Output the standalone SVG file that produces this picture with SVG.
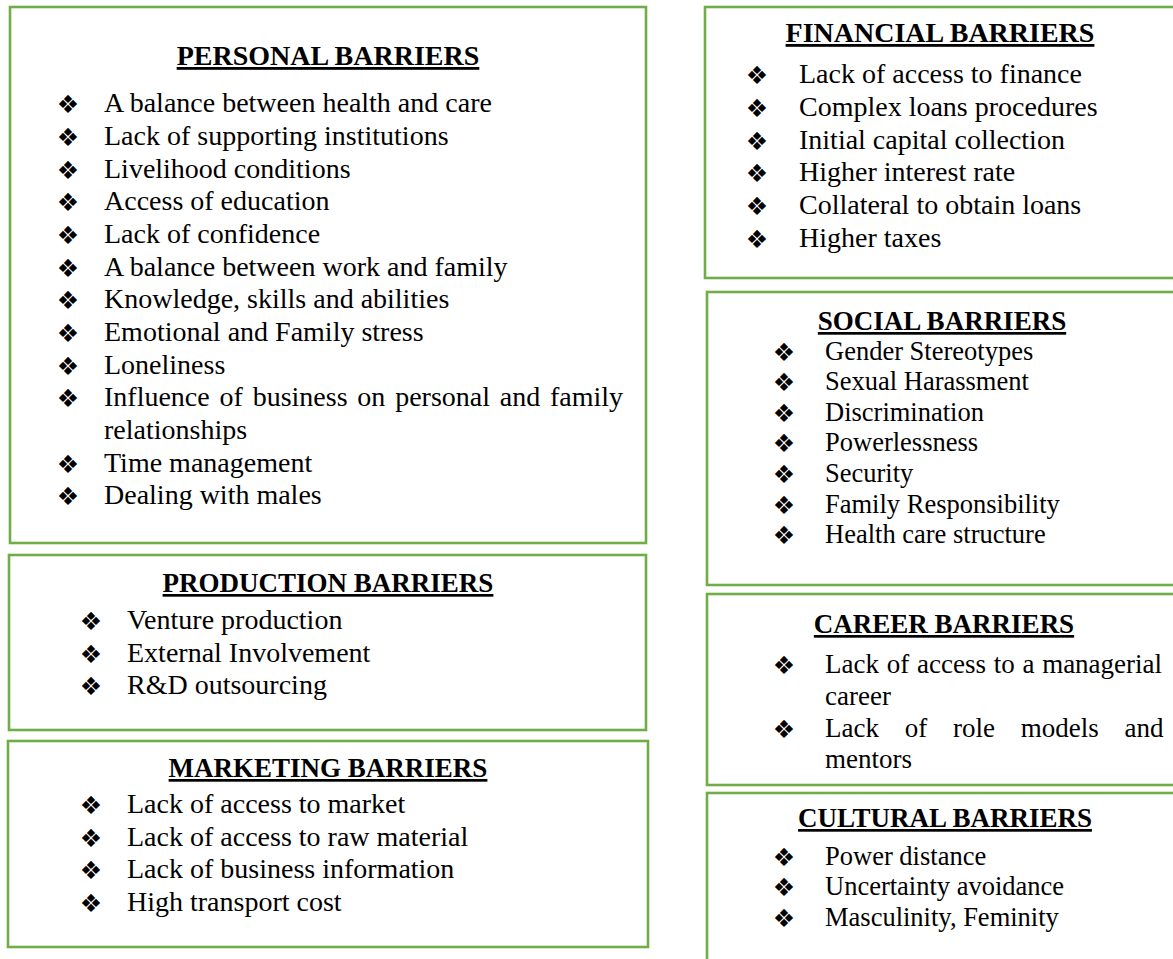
<svg xmlns="http://www.w3.org/2000/svg" width="1173" height="959" viewBox="0 0 1173 959">
  <style>
    .box { fill: #ffffff; stroke: #70ad47; stroke-width: 2.6; }
    .title { font-family: "Liberation Serif", "Times New Roman", serif; font-weight: bold; text-decoration: underline; text-anchor: middle; fill: #000; }
    .item { font-family: "Liberation Serif", "Times New Roman", serif; fill: #000; }
    .bul { font-family: "DejaVu Sans", sans-serif; font-size: 25px; text-anchor: middle; fill: #000; }
    .f28 { font-size: 28px; }
    .f27 { font-size: 27px; }
    .f265 { font-size: 26.5px; }
  </style>
  <rect width="1173" height="959" fill="#ffffff"/>

  <!-- Personal barriers -->
  <g id="personal">
    <rect class="box" x="10" y="7" width="636" height="536"/>
    <text class="title f28" x="328" y="65">PERSONAL BARRIERS</text>
    <g class="bul">
      <text x="68" y="113">❖</text><text x="68" y="146">❖</text><text x="68" y="179">❖</text>
      <text x="68" y="211">❖</text><text x="68" y="244">❖</text><text x="68" y="277">❖</text>
      <text x="68" y="309">❖</text><text x="68" y="342">❖</text><text x="68" y="375">❖</text>
      <text x="68" y="407">❖</text><text x="68" y="473">❖</text><text x="68" y="505">❖</text>
    </g>
    <g class="item f28">
      <text x="104" y="112">A balance between health and care</text>
      <text x="104" y="145">Lack of supporting institutions</text>
      <text x="104" y="178">Livelihood conditions</text>
      <text x="104" y="210">Access of education</text>
      <text x="104" y="243">Lack of confidence</text>
      <text x="104" y="276">A balance between work and family</text>
      <text x="104" y="308">Knowledge, skills and abilities</text>
      <text x="104" y="341">Emotional and Family stress</text>
      <text x="104" y="374">Loneliness</text>
      <text x="104" y="406" word-spacing="2.8">Influence of business on personal and family</text>
      <text x="104" y="439">relationships</text>
      <text x="104" y="472">Time management</text>
      <text x="104" y="504">Dealing with males</text>
    </g>
  </g>

  <!-- Production barriers -->
  <g id="production">
    <rect class="box" x="9" y="555" width="637" height="175"/>
    <text class="title f27" x="328" y="592">PRODUCTION BARRIERS</text>
    <g class="bul">
      <text x="91" y="630">❖</text><text x="91" y="663">❖</text><text x="91" y="695">❖</text>
    </g>
    <g class="item f28">
      <text x="127" y="629">Venture production</text>
      <text x="127" y="662">External Involvement</text>
      <text x="127" y="694">R&amp;D outsourcing</text>
    </g>
  </g>

  <!-- Marketing barriers -->
  <g id="marketing">
    <rect class="box" x="8" y="741" width="640" height="206"/>
    <text class="title f27" x="328" y="777">MARKETING BARRIERS</text>
    <g class="bul">
      <text x="91" y="814">❖</text><text x="91" y="847">❖</text><text x="91" y="879">❖</text><text x="91" y="912">❖</text>
    </g>
    <g class="item f28">
      <text x="127" y="813">Lack of access to market</text>
      <text x="127" y="846">Lack of access to raw material</text>
      <text x="127" y="878">Lack of business information</text>
      <text x="127" y="911">High transport cost</text>
    </g>
  </g>

  <!-- Financial barriers -->
  <g id="financial">
    <rect class="box" x="705" y="7" width="472" height="271"/>
    <text class="title f28" x="940" y="42">FINANCIAL BARRIERS</text>
    <g class="bul">
      <text x="757" y="84">❖</text><text x="757" y="117">❖</text><text x="757" y="150">❖</text>
      <text x="757" y="182">❖</text><text x="757" y="215">❖</text><text x="757" y="248">❖</text>
    </g>
    <g class="item f28">
      <text x="799" y="83">Lack of access to finance</text>
      <text x="799" y="116">Complex loans procedures</text>
      <text x="799" y="149">Initial capital collection</text>
      <text x="799" y="181">Higher interest rate</text>
      <text x="799" y="214">Collateral to obtain loans</text>
      <text x="799" y="247">Higher taxes</text>
    </g>
  </g>

  <!-- Social barriers -->
  <g id="social">
    <rect class="box" x="707" y="292" width="470" height="293"/>
    <text class="title f27" x="942" y="330">SOCIAL BARRIERS</text>
    <g class="bul">
      <text x="784" y="361">❖</text><text x="784" y="391">❖</text><text x="784" y="422">❖</text>
      <text x="784" y="452">❖</text><text x="784" y="483">❖</text><text x="784" y="514">❖</text>
      <text x="784" y="544">❖</text>
    </g>
    <g class="item f265">
      <text x="825" y="360">Gender Stereotypes</text>
      <text x="825" y="390">Sexual Harassment</text>
      <text x="825" y="421">Discrimination</text>
      <text x="825" y="451">Powerlessness</text>
      <text x="825" y="482">Security</text>
      <text x="825" y="513">Family Responsibility</text>
      <text x="825" y="543">Health care structure</text>
    </g>
  </g>

  <!-- Career barriers -->
  <g id="career">
    <rect class="box" x="707" y="594" width="470" height="191"/>
    <text class="title f27" x="944" y="633">CAREER BARRIERS</text>
    <g class="bul">
      <text x="784" y="674">❖</text><text x="784" y="738">❖</text>
    </g>
    <g class="item f27">
      <text x="825" y="673" word-spacing="1">Lack of access to a managerial</text>
      <text x="825" y="705">career</text>
      <text x="825" y="737" word-spacing="19">Lack of role models and</text>
      <text x="825" y="768">mentors</text>
    </g>
  </g>

  <!-- Cultural barriers -->
  <g id="cultural">
    <rect class="box" x="707" y="793" width="470" height="180"/>
    <text class="title f27" x="945" y="827">CULTURAL BARRIERS</text>
    <g class="bul">
      <text x="784" y="866">❖</text><text x="784" y="896">❖</text><text x="784" y="927">❖</text>
    </g>
    <g class="item f265">
      <text x="825" y="865">Power distance</text>
      <text x="825" y="895">Uncertainty avoidance</text>
      <text x="825" y="926">Masculinity, Feminity</text>
    </g>
  </g>
</svg>
